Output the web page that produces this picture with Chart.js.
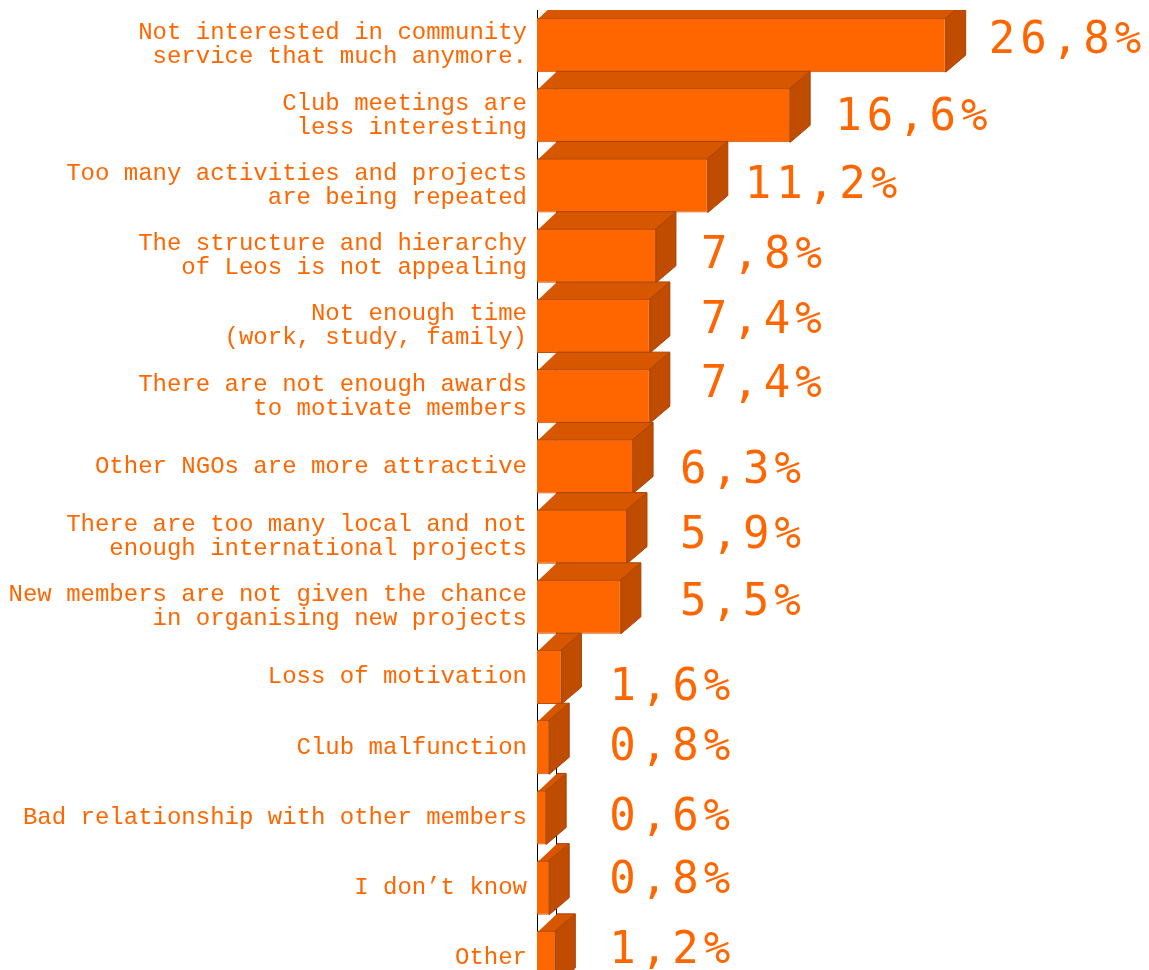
<!DOCTYPE html>
<html><head><meta charset="utf-8">
<script src="https://cdn.jsdelivr.net/npm/chart.js@4.4.0/dist/chart.umd.min.js"></script>
<style>html,body{margin:0;padding:0;background:#fff;overflow:hidden}canvas{display:block}</style>
</head><body>
<canvas id="c" width="1149" height="993"></canvas>
<script>
const categories = [
  ["Not interested in community", "service that much anymore."],
  ["Club meetings are", "less interesting"],
  ["Too many activities and projects", "are being repeated"],
  ["The structure and hierarchy", "of Leos is not appealing"],
  ["Not enough time", "(work, study, family)"],
  ["There are not enough awards", "to motivate members"],
  "Other NGOs are more attractive",
  ["There are too many local and not", "enough international projects"],
  ["New members are not given the chance", "in organising new projects"],
  "Loss of motivation",
  "Club malfunction",
  "Bad relationship with other members",
  "I don’t know",
  "Other"
];
const percentages = [26.8, 16.6, 11.2, 7.8, 7.4, 7.4, 6.3, 5.9, 5.5, 1.6, 0.8, 0.6, 0.8, 1.2];
const valueLabels = percentages.map(v => v.toFixed(1).replace('.', ',') + '%');

// layout nudges for the value labels (pixels), as placed in the original
const labelDx = [23, 25, 17, 25, 31, 31, 27, 33, 39, 28, 40, 43, 40, 34];
const labelDy = [8, 15, 12.5, 12, 7, 1, 17, 11.5, 8, 23, 13, 13, 5.5, 5];

const DX = 20, DY = 17;
const ORANGE = '#ff6600';

const depthPlugin = {
  id: 'depth',
  beforeDatasetsDraw(chart) {
    const { ctx, chartArea: a } = chart;
    ctx.save();
    ctx.strokeStyle = '#000';
    ctx.lineWidth = 1;
    ctx.beginPath();
    ctx.moveTo(a.left + DX - 0.5, a.top);
    ctx.lineTo(a.left + DX - 0.5, a.bottom);
    ctx.stroke();
    ctx.restore();
  },
  afterDatasetsDraw(chart) {
    const { ctx, chartArea: a } = chart;
    const meta = chart.getDatasetMeta(0);
    ctx.save();
    ctx.beginPath();
    ctx.rect(a.left, a.top, a.right - a.left, a.bottom - a.top);
    ctx.clip();
    ctx.lineWidth = 1;
    ctx.strokeStyle = '#a94200';
    meta.data.forEach(bar => {
      const x0 = bar.base, x1 = bar.x;
      const t = bar.y - bar.height / 2, b = bar.y + bar.height / 2;
      // top face (overlaps the front's top edge by 1px to close the seam)
      ctx.fillStyle = '#d65700';
      ctx.beginPath();
      ctx.moveTo(x0 + 1, t + 1); ctx.lineTo(x0 + DX, t - DY); ctx.lineTo(x1 + DX, t - DY); ctx.lineTo(x1, t + 1);
      ctx.closePath(); ctx.fill();
      ctx.beginPath();
      ctx.moveTo(x0 + DX, t - DY); ctx.lineTo(x1 + DX, t - DY);
      ctx.stroke();
      ctx.strokeStyle = '#c04d00';
      ctx.beginPath();
      ctx.moveTo(x0 + 1, t + 0.5); ctx.lineTo(x1, t + 0.5);
      ctx.stroke();
      ctx.strokeStyle = '#a94200';
      // side face
      ctx.fillStyle = '#bf4c00';
      ctx.beginPath();
      ctx.moveTo(x1, t); ctx.lineTo(x1 + DX, t - DY); ctx.lineTo(x1 + DX, b - DY); ctx.lineTo(x1, b);
      ctx.closePath(); ctx.fill(); ctx.stroke();
    });
    ctx.restore();

    ctx.save();
    ctx.font = '44px "DejaVu Sans Mono"';
    ctx.letterSpacing = '5px';
    ctx.fillStyle = ORANGE;
    ctx.textAlign = 'left';
    ctx.textBaseline = 'alphabetic';
    meta.data.forEach((bar, i) => {
      ctx.fillText(valueLabels[i], bar.x + DX + labelDx[i], bar.y + labelDy[i]);
    });
    ctx.restore();
  }
};

new Chart(document.getElementById('c'), {
  type: 'bar',
  data: {
    labels: categories,
    datasets: [{
      data: percentages,
      backgroundColor: ORANGE,
      borderColor: '#c04d00',
      borderWidth: 1,
      barPercentage: 0.77,
      categoryPercentage: 1
    }]
  },
  options: {
    indexAxis: 'y',
    responsive: false,
    animation: false,
    layout: { padding: { top: 10, right: 2, bottom: 0, left: 0 } },
    plugins: { legend: { display: false }, tooltip: { enabled: false } },
    scales: {
      x: { display: false, min: 0, max: 40 },
      y: {
        afterFit(s) { s.width = 537; s.paddingTop = 0; s.paddingBottom = 0; },
        grid: { display: false, drawTicks: false },
        border: { display: true, color: '#000', width: 1 },
        ticks: {
          autoSkip: false,
          padding: 10,
          color: ORANGE,
          font: { family: '"Liberation Mono", "Courier New", monospace', size: 24, lineHeight: 1 }
        }
      }
    }
  },
  plugins: [depthPlugin]
});
</script>
</body></html>
